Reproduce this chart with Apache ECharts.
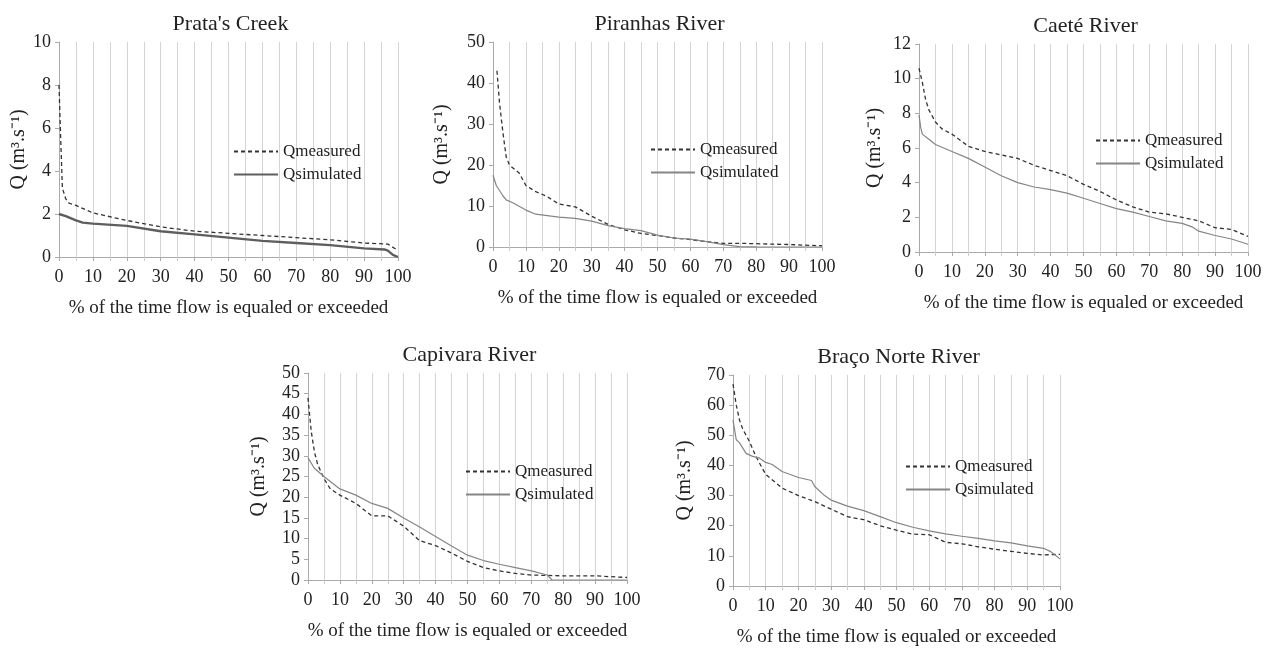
<!DOCTYPE html>
<html>
<head>
    <meta charset="utf-8">
    <title>Flow duration curves</title>
    <script src="https://cdn.jsdelivr.net/npm/echarts@6/dist/echarts.min.js"></script>
</head>
<body style="margin:0;background:#fff;">
    <div id="main" style="width:1269px;height:648px;"></div>
    <script type="text/javascript">
        // values: x = % of time, y = Q (m3/s)
        const prataMeasX = [0, 0.5, 1, 2, 3, 5, 10, 20, 30, 40, 50, 60, 70, 80, 90, 97, 100];
        const prataMeasY = [8, 5.5, 3.2, 2.7, 2.5, 2.4, 2.05, 1.7, 1.4, 1.2, 1.1, 1.0, 0.9, 0.8, 0.65, 0.6, 0.3];
        const prataSimX = [0, 2, 5, 7, 10, 20, 30, 40, 50, 60, 70, 80, 90, 96, 97, 98.5, 99, 100];
        const prataSimY = [2.0, 1.9, 1.7, 1.6, 1.55, 1.45, 1.2, 1.05, 0.9, 0.75, 0.65, 0.55, 0.4, 0.35, 0.3, 0.1, 0.02, 0];

        const piranhasMeasX = [1.2, 2, 3, 4, 5, 8, 10, 13, 16, 20, 25, 30, 35, 40, 45, 50, 55, 60, 65, 70, 75, 80, 90, 100];
        const piranhasMeasY = [43, 35, 28, 22, 20, 18, 15, 13.5, 12.5, 10.5, 9.8, 7.5, 5.5, 4.2, 3.3, 2.8, 2.2, 1.8, 1.3, 0.9, 0.9, 0.8, 0.6, 0.3];
        const piranhasSimX = [0, 1, 3, 4, 6, 10, 13, 20, 25, 30, 35, 40, 45, 50, 55, 60, 65, 70, 75, 80, 100];
        const piranhasSimY = [17.5, 15, 12.5, 11.5, 10.8, 9, 8, 7.3, 7, 6.3, 5.2, 4.5, 4.0, 2.9, 2.2, 1.9, 1.3, 0.6, 0.1, 0.05, 0];

        const caeteMeasX = [0, 1, 2, 3, 5, 7, 10, 15, 20, 25, 30, 35, 40, 45, 50, 55, 60, 65, 70, 75, 80, 85, 90, 95, 100];
        const caeteMeasY = [10.6, 9.8, 8.8, 8.2, 7.5, 7.1, 6.8, 6.1, 5.8, 5.6, 5.4, 5.0, 4.7, 4.4, 3.9, 3.5, 3.0, 2.6, 2.3, 2.2, 2.0, 1.8, 1.4, 1.3, 0.9];
        const caeteSimX = [0, 0.5, 1, 3, 5, 10, 15, 20, 25, 30, 35, 40, 45, 50, 55, 60, 65, 70, 75, 80, 83, 85, 90, 95, 100];
        const caeteSimY = [7.9, 7.2, 6.8, 6.5, 6.2, 5.8, 5.4, 4.9, 4.4, 4.0, 3.75, 3.6, 3.4, 3.1, 2.8, 2.5, 2.3, 2.05, 1.8, 1.65, 1.45, 1.2, 0.95, 0.75, 0.45];

        const capivaraMeasX = [0, 1, 2, 3, 5, 7, 10, 15, 20, 25, 30, 35, 40, 45, 50, 55, 60, 65, 70, 75, 80, 90, 100];
        const capivaraMeasY = [44, 36, 31, 28, 24.5, 22, 20.5, 18.5, 15.5, 15.5, 13, 9.5, 8.3, 6.5, 4.5, 3, 2.2, 1.6, 1.2, 1.1, 1.0, 1.0, 0.6];
        const capivaraSimX = [0, 2, 5, 10, 15, 20, 25, 30, 35, 40, 45, 50, 55, 60, 65, 70, 75, 76.5, 100];
        const capivaraSimY = [29.5, 27, 25, 22, 20.5, 18.5, 17.3, 15, 12.8, 10.5, 8.2, 6.0, 4.7, 3.8, 3.0, 2.2, 1.2, 0, 0];

        const bracoMeasX = [0, 1, 2, 3, 5, 7, 10, 15, 20, 25, 30, 35, 40, 45, 50, 55, 60, 65, 70, 75, 80, 85, 90, 95, 100];
        const bracoMeasY = [67, 60, 55, 52, 48, 43, 37, 32.5, 30, 28, 25.5, 23, 22, 20, 18.5, 17.2, 17, 14.5, 14, 13, 12.2, 11.5, 10.8, 10.3, 10.5];
        const bracoSimX = [0, 1, 2, 4, 6, 8, 10, 12, 15, 20, 24, 25, 28, 30, 35, 40, 45, 50, 55, 60, 65, 70, 75, 80, 85, 90, 95, 97, 100];
        const bracoSimY = [55, 48.5, 47.5, 44, 43, 42.5, 41, 40.3, 38, 36, 35, 33, 30, 28.5, 26.5, 25, 23, 21, 19.5, 18.3, 17.3, 16.5, 15.8, 15, 14.3, 13.3, 12.5, 11.5, 9];

        const panels = [
            { title: "Prata's Creek", mx: prataMeasX, my: prataMeasY, sx: prataSimX, sy: prataSimY,
              yMax: 10, yStep: 2, grid: [59, 42, 339, 215], leg: [228, 138], yGap: 28, simW: 2.4, simC: '#5e5e5e' },
            { title: 'Piranhas River', mx: piranhasMeasX, my: piranhasMeasY, sx: piranhasSimX, sy: piranhasSimY,
              yMax: 50, yStep: 10, grid: [493, 42, 329, 205], leg: [645, 136], yGap: 41, simW: 1.2, simC: '#858585' },
            { title: 'Caeté River', mx: caeteMeasX, my: caeteMeasY, sx: caeteSimX, sy: caeteSimY,
              yMax: 12, yStep: 2, grid: [919, 44, 329, 208], leg: [1090, 127], yGap: 34, simW: 1.2, simC: '#858585' },
            { title: 'Capivara River', mx: capivaraMeasX, my: capivaraMeasY, sx: capivaraSimX, sy: capivaraSimY,
              yMax: 50, yStep: 5, grid: [308, 373, 319, 207], leg: [460, 458], yGap: 39, simW: 1.2, simC: '#858585' },
            { title: 'Braço Norte River', mx: bracoMeasX, my: bracoMeasY, sx: bracoSimX, sy: bracoSimY,
              yMax: 70, yStep: 10, grid: [733, 375, 327, 213], leg: [900, 453], yGap: 38, simW: 1.2, simC: '#858585' }
        ];

        const font = 'Liberation Serif';
        const pairs = (xs, ys) => xs.map((x, i) => [x, ys[i]]);

        var myChart = echarts.init(document.getElementById('main'));
        var option = {
            backgroundColor: '#fff',
            animation: false,
            title: [], grid: [], xAxis: [], yAxis: [], legend: [], series: []
        };

        panels.forEach((p, i) => {
            const [gl, gt, gw, gh] = p.grid;
            option.title.push({
                text: p.title, left: gl + gw / 2 - 3, top: gt - 34, textAlign: 'center',
                textStyle: { fontFamily: font, fontSize: 22, fontWeight: 'normal', color: '#222' }
            });
            option.grid.push({ left: gl, top: gt, width: gw, height: gh });
            option.xAxis.push({
                type: 'value', gridIndex: i, min: 0, max: 100, interval: 10,
                name: '% of the time flow is equaled or exceeded', nameLocation: 'middle', nameGap: 42,
                nameTextStyle: { fontFamily: font, fontSize: 19, color: '#222' },
                axisLine: { show: true, lineStyle: { color: '#aaa' } },
                axisTick: { show: true, length: 4, lineStyle: { color: '#aaa' } },
                minorTick: { show: true, splitNumber: 2, length: 4, lineStyle: { color: '#ccc' } },
                axisLabel: { fontFamily: font, fontSize: 18, color: '#222', margin: 11 },
                splitLine: { show: true, lineStyle: { color: '#d4d4d4' } },
                minorSplitLine: { show: true, lineStyle: { color: '#d4d4d4' } }
            });
            option.yAxis.push({
                type: 'value', gridIndex: i, min: 0, max: p.yMax, interval: p.yStep,
                name: 'Q (m³.s⁻¹)', nameLocation: 'middle', nameGap: p.yGap, nameRotate: 90,
                nameTextStyle: { fontFamily: font, fontSize: 20, color: '#222' },
                axisLine: { show: true, lineStyle: { color: '#aaa' } },
                axisTick: { show: true, length: 4, lineStyle: { color: '#aaa' } },
                axisLabel: { fontFamily: font, fontSize: 18, color: '#222', margin: 8 },
                splitLine: { show: false }
            });
            const mName = 'Qmeasured|' + i, sName = 'Qsimulated|' + i;
            option.legend.push({
                data: [mName, sName], orient: 'vertical', left: p.leg[0], top: p.leg[1],
                itemWidth: 44, itemHeight: 14, itemGap: 6, selectedMode: false,
                itemStyle: { opacity: 0 },
                formatter: n => n.split('|')[0],
                textStyle: { fontFamily: font, fontSize: 17, color: '#222' }
            });
            option.series.push({
                name: mName, type: 'line', xAxisIndex: i, yAxisIndex: i, symbol: 'none',
                data: pairs(p.mx, p.my),
                lineStyle: { color: '#333', width: 1.3, type: [4, 3] }, itemStyle: { color: '#333' }
            });
            option.series.push({
                name: sName, type: 'line', xAxisIndex: i, yAxisIndex: i, symbol: 'none',
                data: pairs(p.sx, p.sy),
                lineStyle: { color: p.simC, width: p.simW }, itemStyle: { color: p.simC }
            });
        });

        myChart.setOption(option);
    </script>
</body>
</html>
